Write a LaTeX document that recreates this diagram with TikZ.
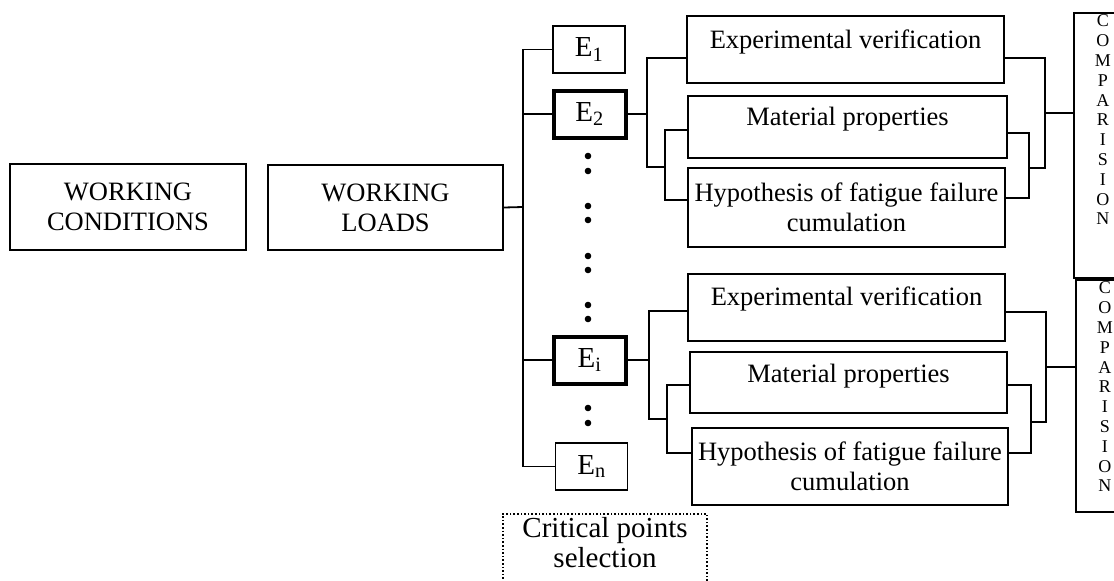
\documentclass[tikz,border=0pt]{standalone}
\usepackage{fontspec}
\setmainfont{Liberation Serif}

\begin{document}
\begin{tikzpicture}
[x=1pt, y=-1pt, line width=1.8pt,
box/.style={draw, line width=1.8pt, align=center, inner sep=0pt, font=\fontsize{26.5}{30}\selectfont},
tbox/.style={draw, line width=1.8pt, inner xsep=0pt, inner ysep=0pt, anchor=north, font=\fontsize{26.5}{30}\selectfont},
ebox/.style={box, minimum width=72pt, minimum height=47pt, font=\fontsize{29}{30}\selectfont},
ekey/.style={ebox, line width=4pt},
compbox/.style={draw, line width=1.8pt, anchor=north west, minimum width=58pt, inner sep=0pt},
complabel/.style={anchor=north, align=center, inner sep=2pt, font=\fontsize{18}{19.8}\selectfont},
critbox/.style={draw, dotted, line width=1.6pt, anchor=north, minimum width=204pt, minimum height=90pt},
critlabel/.style={anchor=north, align=center, inner sep=3pt, font=\fontsize{29}{30}\selectfont}]
\useasboundingbox (0,0) rectangle (1114,581);
\clip (0,0) rectangle (1114,581);
\node[box, minimum width=236pt, minimum height=86pt] (cond) at (128,207) {WORKING\\CONDITIONS};
\node[box, minimum width=235pt, minimum height=85pt] (loads) at (385.5,207.5) {WORKING\\LOADS};
\node[ebox] (e1) at (589,49.5) {E\textsubscript{1}};
\node[ekey] (e2) at (589.5,114) {E\textsubscript{2}};
\node[ekey] (ei) at (589.5,360) {E\textsubscript{i}};
\node[ebox] (en) at (591.5,466.5) {E\textsubscript{n}};
\node[critbox, label={[critlabel]north:{Critical points\\selection}}] (crit) at (605,513) {};
\node[tbox, minimum width=317pt, text height=33pt, text depth=34pt] (exp1) at (845.5,15) {Experimental verification};
\node[tbox, minimum width=319pt, text height=30pt, text depth=32pt] (mat1) at (847.5,95) {Material properties};
\node[box, minimum width=317pt, minimum height=79pt] (hyp1) at (846.5,207.5) {Hypothesis of fatigue failure\\cumulation};
\node[tbox, minimum width=317pt, text height=32pt, text depth=35pt] (exp2) at (846.5,273) {Experimental verification};
\node[tbox, minimum width=317pt, text height=31pt, text depth=30pt] (mat2) at (848.5,351) {Material properties};
\node[box, minimum width=316pt, minimum height=77pt] (hyp2) at (850,466.5) {Hypothesis of fatigue failure\\cumulation};
\node[compbox, minimum height=265pt, label={[complabel]north:{C\\O\\M\\P\\A\\R\\I\\S\\I\\O\\N}}] (comp1) at (1073,12) {};
\node[compbox, minimum height=232pt, label={[complabel]north:{C\\O\\M\\P\\A\\R\\I\\S\\I\\O\\N}}] (comp2) at (1075,279) {};
\coordinate (tr) at (523,207);
\draw (loads.east) -- (tr);
\draw (e1.west) -- (e1.west -| tr) -- (en.west -| tr) -- (en.west);
\draw (e2.west) -- (e2.west -| tr);
\draw (ei.west) -- (ei.west -| tr);
\fill (588,156) circle (3.3pt);
\fill (588,171) circle (3.3pt);
\fill (588,206) circle (3.3pt);
\fill (588,220) circle (3.3pt);
\fill (588,256) circle (3.3pt);
\fill (588,270) circle (3.3pt);
\fill (588,305) circle (3.3pt);
\fill (588,319) circle (3.3pt);
\fill (588,408) circle (3.3pt);
\fill (588,423) circle (3.3pt);
\coordinate (k1) at (647,167);
\coordinate (m1) at (665,167);
\draw (e2.east) -- (e2.east -| k1);
\draw ([yshift=-8.5pt]exp1.west) -| (k1) -- (m1);
\draw ([yshift=-3pt]mat1.west) -| (m1) |- ([yshift=7.5pt]hyp1.west);
\coordinate (r1) at (1045,113);
\coordinate (q1) at (1029,168);
\draw ([yshift=-8.5pt]exp1.east) -| (r1) |- (q1);
\draw ([yshift=-6pt]mat1.east) -| (q1) |- ([yshift=9.5pt]hyp1.east);
\draw (r1) -- (r1 -| comp1.west);
\coordinate (k2) at (649,419);
\coordinate (m2) at (667,419);
\draw (ei.east) -- (ei.east -| k2);
\draw ([yshift=-3.5pt]exp2.west) -| (k2) -- (m2);
\draw ([yshift=-2.5pt]mat2.west) -| (m2) |- ([yshift=13.5pt]hyp2.west);
\coordinate (r2) at (1046,367);
\coordinate (q2) at (1031,422);
\draw ([yshift=-4.5pt]exp2.east) -| (r2) |- (q2);
\draw ([yshift=-2.5pt]mat2.east) -| (q2) |- ([yshift=13.5pt]hyp2.east);
\draw (r2) -- (r2 -| comp2.west);
\end{tikzpicture}
\end{document}
